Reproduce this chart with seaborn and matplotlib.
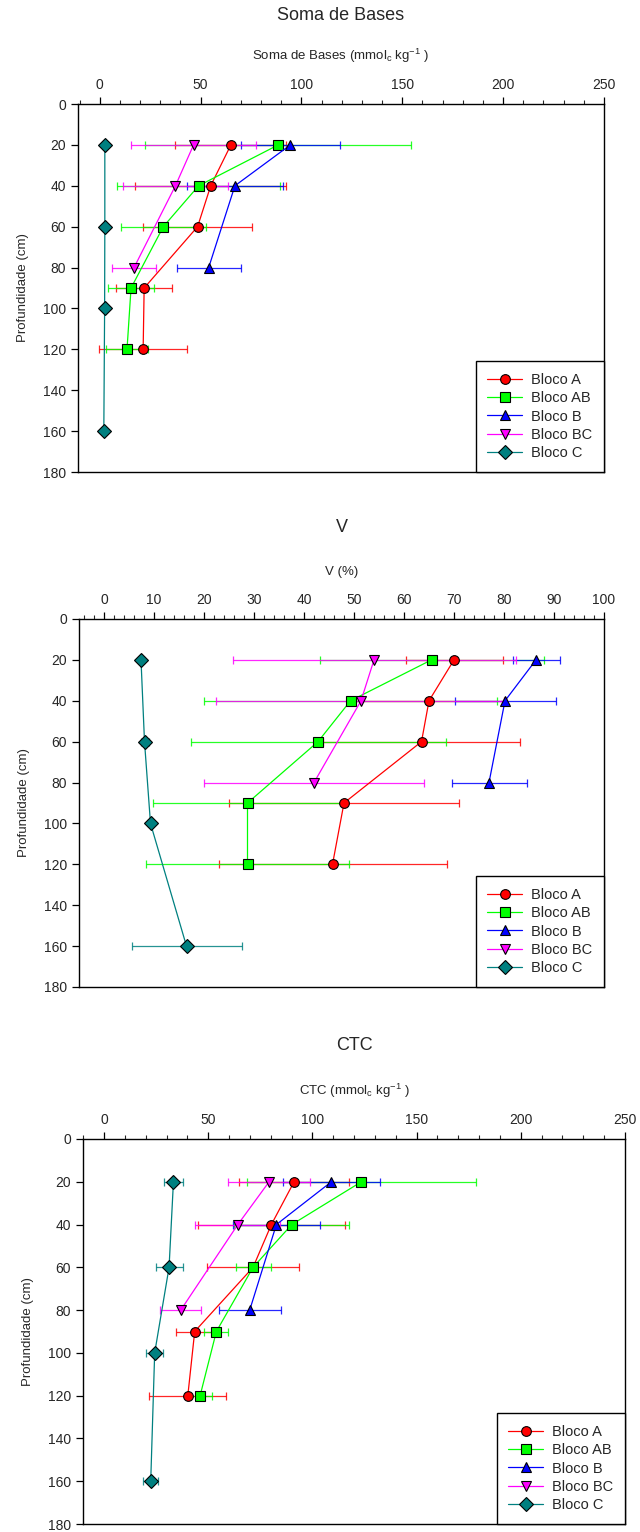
import numpy as np
import pandas as pd
import matplotlib
matplotlib.use("Agg")
import matplotlib.pyplot as plt
from matplotlib.lines import Line2D
from matplotlib.ticker import MultipleLocator
import seaborn as sns

# blocos e profundidades (cm)
blocos = ["Bloco A", "Bloco AB", "Bloco B", "Bloco BC", "Bloco C"]
prof = {
    "Bloco A": [20, 40, 60, 90, 120],
    "Bloco AB": [20, 40, 60, 90, 120],
    "Bloco B": [20, 40, 80],
    "Bloco BC": [20, 40, 80],
    "Bloco C": [20, 60, 100, 160],
}

# Soma de Bases (mmolc/kg) - media e desvio
sb_A = [65, 55, 48.5, 22, 21.5]
sb_A_err = [27.5, 37.5, 27, 14, 21.7]
sb_AB = [88.5, 49, 31.5, 15.5, 13.5]
sb_AB_err = [66, 40.5, 21, 11.3, 10.6]
sb_B = [94.5, 67, 54]
sb_B_err = [24.7, 23.7, 15.8]
sb_BC = [46.5, 37.5, 17]
sb_BC_err = [31, 26, 11]
sb_C = [2.5, 2.5, 2.4, 2.0]
sb_C_err = [0.4, 0.4, 0.4, 0.4]

# V (%)
v_A = [70, 65, 63.5, 48, 45.7]
v_A_err = [9.7, 15, 19.7, 23, 22.8]
v_AB = [65.5, 49.3, 42.8, 28.7, 28.7]
v_AB_err = [22.4, 29.3, 25.5, 19, 20.3]
v_B = [86.4, 80.2, 77]
v_B_err = [4.7, 10.1, 7.5]
v_BC = [54, 51.4, 42]
v_BC_err = [28.3, 29, 22]
v_C = [7.4, 8.1, 9.3, 16.5]
v_C_err = [0.5, 0.8, 0.5, 11]

# CTC (mmolc/kg)
ctc_A = [91.2, 80.3, 71.5, 43.5, 40.2]
ctc_A_err = [26.4, 35.2, 22.1, 8.8, 18.4]
ctc_AB = [123.5, 90.1, 71.5, 53.9, 46.1]
ctc_AB_err = [55, 27.5, 8.4, 5.7, 5.9]
ctc_B = [109.1, 82.7, 69.9]
ctc_B_err = [23.3, 20.8, 14.8]
ctc_BC = [79.2, 64.2, 36.8]
ctc_BC_err = [19.8, 20.4, 9.8]
ctc_C = [33.3, 31.2, 24.3, 22.4]
ctc_C_err = [4.5, 6.5, 4, 3.5]

cores = {"Bloco A": "#FF0000", "Bloco AB": "#00FF00", "Bloco B": "#0000FF",
         "Bloco BC": "#FF00FF", "Bloco C": "#008080"}
marcadores = {"Bloco A": "o", "Bloco AB": "s", "Bloco B": "^",
              "Bloco BC": "v", "Bloco C": "D"}


def monta_df(vals, errs):
    linhas = []
    for b, v, e in zip(blocos, vals, errs):
        for p, vi, ei in zip(prof[b], v, e):
            linhas.append({"bloco": b, "prof": p, "valor": vi, "erro": ei})
    return pd.DataFrame(linhas)


df_sb = monta_df([sb_A, sb_AB, sb_B, sb_BC, sb_C],
                 [sb_A_err, sb_AB_err, sb_B_err, sb_BC_err, sb_C_err])
df_v = monta_df([v_A, v_AB, v_B, v_BC, v_C],
                [v_A_err, v_AB_err, v_B_err, v_BC_err, v_C_err])
df_ctc = monta_df([ctc_A, ctc_AB, ctc_B, ctc_BC, ctc_C],
                  [ctc_A_err, ctc_AB_err, ctc_B_err, ctc_BC_err, ctc_C_err])

sns.set_style("ticks")
plt.rcParams["font.family"] = ["Liberation Sans", "DejaVu Sans"]
plt.rcParams["mathtext.default"] = "regular"

W, H = 640, 1532
fig = plt.figure(figsize=(W / 100, H / 100), dpi=100)


def px_axes(x0, x1, y0, y1):
    return fig.add_axes([x0 / W, 1 - y1 / H, (x1 - x0) / W, (y1 - y0) / H])


paineis = [
    # df, titulo, xlabel, xlim, major, minor, caixa(px), y_titulo
    (df_sb, "Soma de Bases", "Soma de Bases (mmol$_c$ kg$^{-1}$ )", (-10.8, 250), 50, 10,
     (78, 604, 104, 472), 16),
    (df_v, "V", "V (%)", (-5, 100), 10, 2, (79, 604, 619, 987), 527),
    (df_ctc, "CTC", "CTC (mmol$_c$ kg$^{-1}$ )", (-10.1, 250), 50, 10,
     (83, 625, 1139, 1524), 1045),
]

for df, titulo, xlab, xlim, maj, mnr, caixa, yt in paineis:
    ax = px_axes(*caixa)
    for b in blocos:
        d = df[df["bloco"] == b]
        ax.errorbar(d["valor"], d["prof"], xerr=d["erro"], fmt="none",
                    ecolor=cores[b], elinewidth=0.9, capsize=2.6, capthick=0.9,
                    alpha=0.85, zorder=1)
    sns.lineplot(data=df, x="valor", y="prof", hue="bloco", style="bloco",
                 palette=cores, markers=marcadores, dashes=False, sort=False,
                 estimator=None, orient="y", legend=False, ax=ax,
                 linewidth=0.9, markersize=7, markeredgecolor="black",
                 markeredgewidth=0.8, zorder=2)

    ax.set_xlim(*xlim)
    ax.set_ylim(180, 0)
    ax.xaxis.tick_top()
    ax.xaxis.set_label_position("top")
    ax.xaxis.set_major_locator(MultipleLocator(maj))
    ax.xaxis.set_minor_locator(MultipleLocator(mnr))
    ax.yaxis.set_major_locator(MultipleLocator(20))
    ax.tick_params(axis="both", which="major", direction="out", length=5,
                   width=0.9, labelsize=10, color="black")
    ax.tick_params(axis="x", which="minor", direction="out", length=3,
                   width=0.8, top=True, bottom=False)
    ax.set_xlabel(xlab, fontsize=9.5, labelpad=13)
    ax.set_ylabel("Profundidade (cm)", fontsize=9.5, labelpad=10)
    for s in ax.spines.values():
        s.set_color("black")
        s.set_linewidth(1.0)

    handles = [Line2D([0], [0], color=cores[b], marker=marcadores[b],
                      markerfacecolor=cores[b], markeredgecolor="black",
                      markeredgewidth=0.8, markersize=7, linewidth=0.9)
               for b in blocos]
    leg = ax.legend(handles, blocos, loc="lower right", bbox_to_anchor=(1, 0),
                    borderaxespad=0, frameon=True, fancybox=False,
                    edgecolor="black", framealpha=1, fontsize=10.5,
                    handlelength=2.4, handletextpad=0.6, labelspacing=0.3,
                    borderpad=0.8)
    leg.get_frame().set_linewidth(1.0)

    cx = (caixa[0] + caixa[1]) / 2
    fig.text(cx / W, 1 - yt / H, titulo, ha="center", va="center", fontsize=13)

fig.savefig("out.png", dpi=100)
